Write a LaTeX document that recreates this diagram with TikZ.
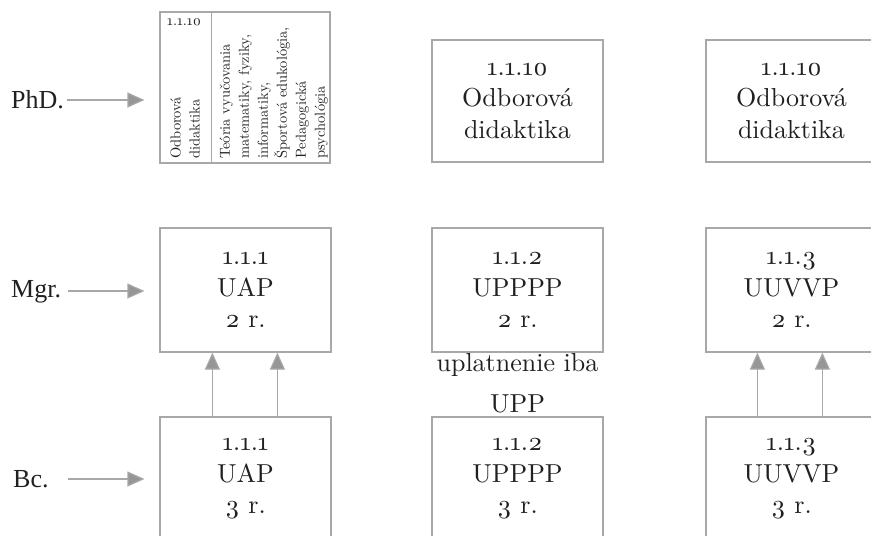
\documentclass[tikz,border=0pt]{standalone}
\usepackage{fontspec}
\setmainfont{lmroman10-regular.otf}[Numbers=OldStyle]
\newfontfamily\labfont{Liberation Serif}
\usetikzlibrary{arrows.meta}
\definecolor{boxgray}{RGB}{168,168,168}
\definecolor{headgray}{RGB}{150,150,150}
\definecolor{ink}{RGB}{35,31,32}
\begin{document}
\begin{tikzpicture}[x=1pt,y=-1pt,
  box/.style={draw=boxgray, line width=1.2pt, minimum width=171pt, minimum height=124pt,
    inner sep=0pt, align=center, text=ink, font=\fontsize{26}{31.5}\selectfont},
  lab/.style={font=\labfont\fontsize{26}{30}\selectfont, text=ink, inner sep=1pt, anchor=base west},
  arr/.style={draw=boxgray, line width=1.2pt, -{Triangle[length=17pt,width=15pt,fill=headgray]}},
  small/.style={font=\fontsize{14.5}{19}\selectfont, text=ink, inner sep=0pt, align=left},
  note/.style={font=\fontsize{26}{40.7}\selectfont, text=ink, inner sep=0pt, align=center}
]
\useasboundingbox (0,0) rectangle (871,536);
\clip (0,0) rectangle (871,536);

% PhD row
\node[draw=boxgray, line width=1.2pt, minimum width=170pt, minimum height=151pt, inner sep=0pt] (phdt) at (245,87.5) {};
\draw[boxgray, line width=1.2pt] ([xshift=52pt]phdt.north west) -- ([xshift=52pt]phdt.south west);
\node[small, anchor=base west] (code) at (167,25) {1.1.10};
\node[small, rotate=90, anchor=south west] (od) at (200,159) {Odborová\\didaktika};
\node[small, rotate=90, anchor=south west] (te) at (328,159) {Teória vyučovania\\matematiky, fyziky,\\informatiky,\\Športová edukológia,\\Pedagogická\\psychológia};

\node[box, minimum height=122pt] (phd2) at (517.5,101) {1.1.10\\Odborová\\didaktika};
\node[box, minimum height=122pt] (phd3) at (791.5,101) {1.1.10\\Odborová\\didaktika};

% Mgr row
\node[box] (mgr1) at (245.5,290) {1.1.1\\UAP\\2 r.};
\node[box] (mgr2) at (517.5,290) {1.1.2\\UPPPP\\2 r.};
\node[box] (mgr3) at (791.5,290) {1.1.3\\UUVVP\\2 r.};

% Bc row
\node[box] (bc1) at (245.5,479) {1.1.1\\UAP\\3 r.};
\node[box] (bc2) at (517.5,479) {1.1.2\\UPPPP\\3 r.};
\node[box] (bc3) at (791.5,479) {1.1.3\\UUVVP\\3 r.};

\node[note] (upp) at (517.5,383.5) {uplatnenie iba\\UPP};

% left labels
\node[lab] (phd) at (10,108) {PhD.};
\node[lab] (mgr) at (10,297) {Mgr.};
\node[lab] (bc) at (12,487) {Bc.};

\coordinate (sphd) at (67,100);
\coordinate (smgr) at (68,291);
\coordinate (sbc) at (68,479);
\draw[arr, shorten >=15pt] (sphd) -- (sphd -| phdt.west);
\draw[arr, shorten >=15pt] (smgr) -- (smgr -| mgr1.west);
\draw[arr, shorten >=15pt] (sbc) -- (sbc -| bc1.west);

% upward arrows
\draw[arr] ([xshift=53pt]bc1.north west) -- ([xshift=53pt]mgr1.south west);
\draw[arr] ([xshift=118pt]bc1.north west) -- ([xshift=118pt]mgr1.south west);
\draw[arr] ([xshift=52pt]bc3.north west) -- ([xshift=52pt]mgr3.south west);
\draw[arr] ([xshift=117pt]bc3.north west) -- ([xshift=117pt]mgr3.south west);
\end{tikzpicture}
\end{document}
